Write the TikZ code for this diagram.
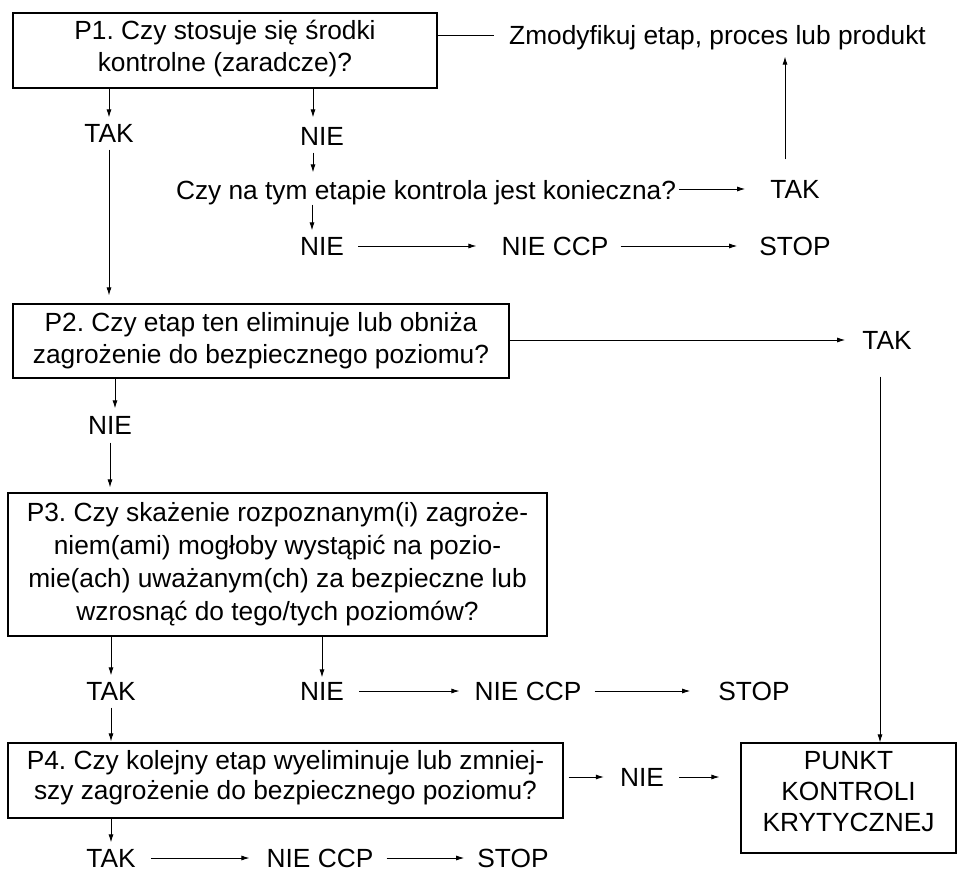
\documentclass[tikz,border=0pt]{standalone}
\usepackage{fontspec}
\usetikzlibrary{arrows.meta}
\newfontfamily\qf{Liberation Sans}
\newcommand\qfont{\qf\frenchspacing\fontsize{26.3}{32}\selectfont}
\tikzset{
  box/.style={draw, line width=1.1pt, inner sep=0pt, align=center, font=\qfont},
  lbl/.style={inner sep=0pt, text height=18.8pt, text depth=0pt, font=\qfont},
  arr/.style={-{Latex[length=8pt,width=5pt]}, line width=0.9pt},
  plain/.style={line width=0.9pt},
}
\begin{document}
\begin{tikzpicture}[x=1pt,y=-1pt]
\useasboundingbox[fill=white] (0,0) rectangle (958,874);
% boxes
\node[box, minimum width=424pt, minimum height=75pt] (p1) at (225,50.5)
  {P1. Czy stosuje się środki\\kontrolne (zaradcze)?\rule[-9pt]{0pt}{0pt}};
\node[box, minimum width=496pt, minimum height=74pt] (p2) at (261,341)
  {P2. Czy etap ten eliminuje lub obniża\\zagrożenie do bezpiecznego poziomu?};
\node[box, minimum width=539pt, minimum height=143pt, font=\qf\frenchspacing\fontsize{26.3}{33}\selectfont] (p3) at (277.5,564.5)
  {P3. Czy skażenie rozpoznanym(i) zagroże-\\niem(ami) mogłoby wystąpić na pozio-\\mie(ach) uważanym(ch) za bezpieczne lub\\wzrosnąć do tego/tych poziomów?};
\node[box, minimum width=555pt, minimum height=75pt, font=\qf\frenchspacing\fontsize{26.3}{30}\selectfont] (p4) at (285.5,780.5)
  {P4. Czy kolejny etap wyeliminuje lub zmniej-\\szy zagrożenie do bezpiecznego poziomu?\rule[-12pt]{0pt}{0pt}};
\node[box, minimum width=215pt, minimum height=110pt, font=\qf\fontsize{26.3}{31}\selectfont] (punkt) at (848.5,798)
  {PUNKT\\KONTROLI\\KRYTYCZNEJ\rule[-14pt]{0pt}{0pt}};
% labels
\node[lbl] (zmod) at (717.5,35) {Zmodyfikuj etap, proces lub produkt};
\node[lbl] (tak1) at (109,133) {TAK};
\node[lbl] (nie1) at (322,136) {NIE};
\node[lbl] (q) at (426,190) {Czy na tym etapie kontrola jest konieczna?};
\node[lbl] (tak2) at (795,189) {TAK};
\node[lbl] (nie2) at (322,246) {NIE};
\node[lbl] (nieccp1) at (555,246) {NIE CCP};
\node[lbl] (stop1) at (795,246) {STOP};
\node[lbl] (tak3) at (887,340) {TAK};
\node[lbl] (nie3) at (110,425) {NIE};
\node[lbl] (tak4) at (111,691) {TAK};
\node[lbl] (nie4) at (322,691) {NIE};
\node[lbl] (nieccp2) at (528,691) {NIE CCP};
\node[lbl] (stop2) at (754,691) {STOP};
\node[lbl] (nie5) at (642,777) {NIE};
\node[lbl] (tak5) at (111,858) {TAK};
\node[lbl] (nieccp3) at (320,858) {NIE CCP};
\node[lbl] (stop3) at (513,858) {STOP};
% connectors
\draw[plain, shorten >=15pt] (p1.east |- zmod) -- (zmod.west);
\draw[arr, shorten <=20pt, shorten >=12pt] ([xshift=-10pt]tak2.north) -- ([xshift=-10pt]tak2.north |- zmod.south);
\draw[arr, shorten <=3pt, shorten >=25pt] (q.east |- tak2) -- (tak2.west);
\draw[arr, shorten >=6pt] (tak1.north |- p1.south) -- (tak1.north);
\draw[arr, shorten <=7pt, shorten >=8pt] (tak1.south) -- (tak1.south |- p2.north);
\draw[arr, shorten >=9pt] ([xshift=-9pt]nie1.north |- p1.south) -- ([xshift=-9pt]nie1.north);
\draw[arr, shorten <=7pt, shorten >=8pt] ([xshift=-9pt]nie1.south) -- ([xshift=-9pt]nie1.south |- q.north);
\draw[arr, shorten <=5pt, shorten >=6pt] ([xshift=-10pt]nie2.north |- q.south) -- ([xshift=-10pt]nie2.north);
\draw[arr, shorten <=14pt, shorten >=25pt] (nie2.east) -- (nieccp1.west);
\draw[arr, shorten <=12pt, shorten >=22pt] (nieccp1.east) -- (stop1.west);
\draw[arr, shorten >=17pt] (p2.east |- tak3) -- (tak3.west);
\draw[arr, shorten <=27pt] ([xshift=-7pt]tak3.south) -- ([xshift=-7pt]tak3.south |- punkt.north);
\draw[arr, shorten >=7pt] ([xshift=5pt]nie3.north |- p2.south) -- ([xshift=5pt]nie3.north);
\draw[arr, shorten <=8pt, shorten >=5pt] (nie3.south) -- (nie3.south |- p3.north);
\draw[arr, shorten >=6pt] (tak4.north |- p3.south) -- (tak4.north);
\draw[arr, shorten <=7pt, shorten >=1pt] (tak4.south) -- (tak4.south |- p4.north);
\draw[arr, shorten >=4pt] (nie4.north |- p3.south) -- (nie4.north);
\draw[arr, shorten <=15pt, shorten >=15pt] (nie4.east) -- (nieccp2.west);
\draw[arr, shorten <=13pt, shorten >=28pt] (nieccp2.east) -- (stop2.west);
\draw[arr, shorten <=5pt, shorten >=16pt] (p4.east |- nie5) -- (nie5.west);
\draw[arr, shorten <=15pt, shorten >=21pt] (nie5.east) -- (nie5.east -| punkt.west);
\draw[arr, shorten >=6pt] (tak5.north |- p4.south) -- (tak5.north);
\draw[arr, shorten <=15pt, shorten >=17pt] (tak5.east) -- (nieccp3.west);
\draw[arr, shorten <=13pt, shorten >=13pt] (nieccp3.east) -- (stop3.west);
\end{tikzpicture}
\end{document}
